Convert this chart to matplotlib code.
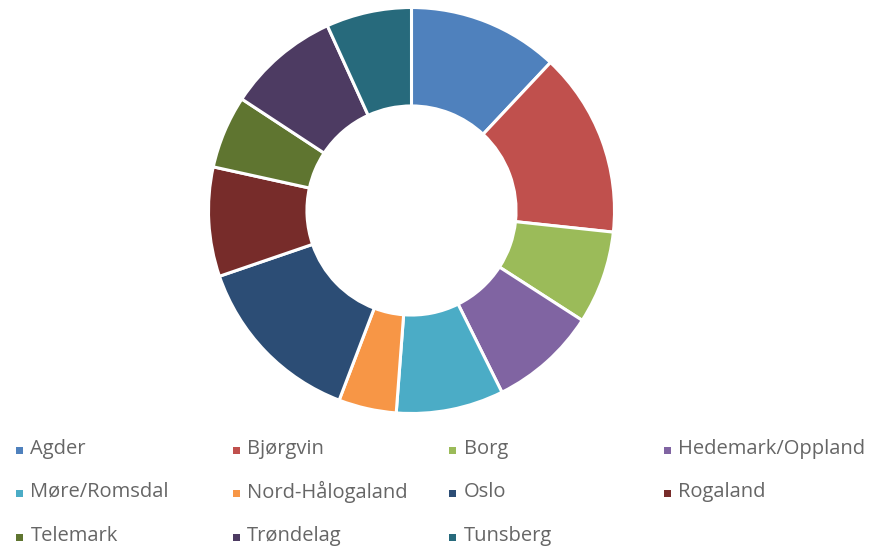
import matplotlib
matplotlib.use("Agg")
import matplotlib.pyplot as plt
from matplotlib.patches import Rectangle

categories = ["Agder", "Bjørgvin", "Borg", "Hedemark/Oppland", "Møre/Romsdal",
              "Nord-Hålogaland", "Oslo", "Rogaland", "Telemark", "Trøndelag", "Tunsberg"]
values = [12.0, 14.7, 7.4, 8.55, 8.55, 4.6, 13.95, 8.7, 5.8, 8.95, 6.8]
colors = ["#4F81BD", "#C0504D", "#9BBB59", "#8064A2", "#4BACC6", "#F79646",
          "#2C4D75", "#772C2A", "#5F7530", "#4D3B62", "#276A7C"]

W, H = 885, 549
fig = plt.figure(figsize=(W / 100, H / 100), dpi=100)
fig.patch.set_facecolor("white")

cx, cy, r = 411.5, 210.5, 203
ax = fig.add_axes([(cx - r) / W, (H - cy - r) / H, 2 * r / W, 2 * r / H])
ax.pie(values, colors=colors, startangle=90, counterclock=False, radius=1,
       wedgeprops=dict(width=0.485, edgecolor="white", linewidth=2.2))
ax.set_xlim(-1, 1)
ax.set_ylim(-1, 1)
ax.set_aspect("equal")
ax.axis("off")

col_x = [19.5, 236, 453, 667]
row_y = [450, 493, 537]
for i, (name, c) in enumerate(zip(categories, colors)):
    x = col_x[i % 4]
    y = row_y[i // 4]
    s = 7
    fig.add_artist(Rectangle(((x - s / 2) / W, (H - y - s / 2) / H), s / W, s / H,
                             transform=fig.transFigure, facecolor=c, edgecolor="none"))
    fig.text((x + 11) / W, (H - y + 1) / H, name, fontsize=14.5, color="#666666",
             family="Open Sans", va="center", ha="left")

fig.savefig("out.png", dpi=100, facecolor="white")
